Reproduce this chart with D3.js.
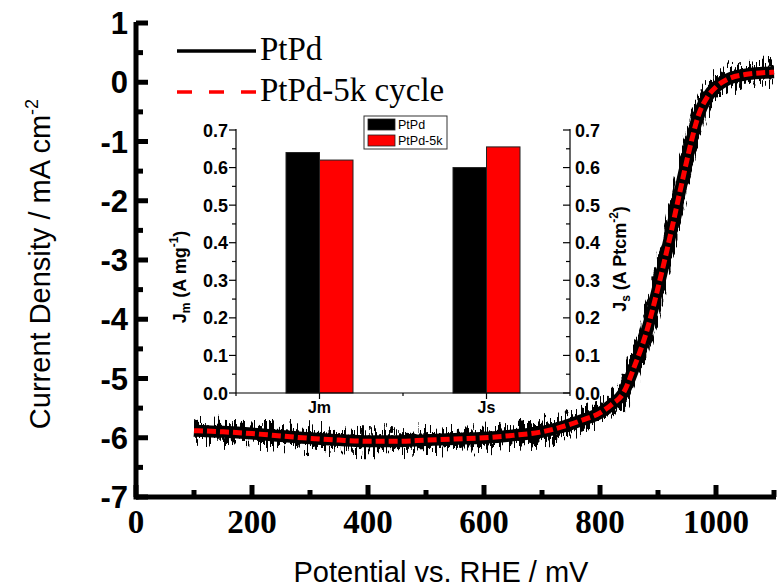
<!DOCTYPE html>
<html><head><meta charset="utf-8">
<script src="https://cdn.jsdelivr.net/npm/d3@7"></script>
<style>body{margin:0;background:#fff}svg{display:block}</style>
</head><body>
<svg id="c" width="781" height="588"></svg>
<script>
// ---- main curve data (potential mV, current density mA cm^-2)
const potential = [100,150,200,250,300,350,400,450,500,550,600,650,700,740,770,800,820,840,860,880,900,920,940,955,970,985,1000,1020,1050,1080,1100];
const currentPtPd = [-5.88,-5.90,-5.93,-5.97,-6.01,-6.04,-6.06,-6.06,-6.04,-6.02,-6.00,-5.96,-5.90,-5.80,-5.70,-5.58,-5.44,-5.25,-4.78,-4.22,-3.47,-2.64,-1.75,-1.10,-0.55,-0.25,-0.08,0.05,0.13,0.16,0.17];
const currentPtPd5k = [-5.88,-5.90,-5.93,-5.97,-6.01,-6.04,-6.06,-6.06,-6.04,-6.02,-6.00,-5.96,-5.90,-5.80,-5.70,-5.58,-5.44,-5.25,-4.78,-4.22,-3.47,-2.64,-1.75,-1.10,-0.55,-0.25,-0.08,0.05,0.13,0.16,0.17];
const xTicks = [0,200,400,600,800,1000];
const yTicks = [1,0,-1,-2,-3,-4,-5,-6,-7];
const seriesNames = ["PtPd","PtPd-5k cycle"];
// ---- inset bar data
const barCategories = ["Jm","Js"];
const barSeries = ["PtPd","PtPd-5k"];
const barPtPd = [0.64,0.60];
const barPtPd5k = [0.62,0.655];
const insetTicks = [0,0.1,0.2,0.3,0.4,0.5,0.6,0.7];

const svg = d3.select("#c");
const x = d3.scaleLinear().domain([0,1100]).range([136,774]);
const y = d3.scaleLinear().domain([-7,1]).range([497,23]);

const defs = svg.append("defs");
const f = defs.append("filter").attr("id","noise").attr("filterUnits","userSpaceOnUse").attr("x",150).attr("y",20).attr("width",640).attr("height",460);
f.append("feTurbulence").attr("type","fractalNoise").attr("baseFrequency","0.45 0.06").attr("numOctaves",2).attr("seed",7).attr("result","t");
f.append("feColorMatrix").attr("in","t").attr("type","matrix")
  .attr("values","0 0 0 0 0.5  0 2.2 0 0 -0.6  0 0 0 0 0  0 0 0 0 1").attr("result","m");
f.append("feDisplacementMap").attr("in","SourceGraphic").attr("in2","m").attr("scale",22).attr("xChannelSelector","R").attr("yChannelSelector","G");

// axes main
const ax = svg.append("g");
ax.append("line").attr("x1",x(0)).attr("x2",x(1100)+2).attr("y1",y(-7)).attr("y2",y(-7)).attr("stroke","#000").attr("stroke-width",5);
ax.append("line").attr("x1",x(0)).attr("x2",x(0)).attr("y1",y(-7)+2.5).attr("y2",y(1)-1).attr("stroke","#000").attr("stroke-width",5);
d3.range(0,1101,100).forEach(v=>{
  const major = v%200===0;
  ax.append("line").attr("x1",x(v)).attr("x2",x(v)).attr("y1",y(-7)).attr("y2",y(-7)-(major?12:7)).attr("stroke","#000").attr("stroke-width",5);
});
d3.range(-7,1.01,0.5).forEach(v=>{
  const major = Math.abs(v%1)<1e-9;
  ax.append("line").attr("x1",x(0)).attr("x2",x(0)+(major?12:7)).attr("y1",y(v)).attr("y2",y(v)).attr("stroke","#000").attr("stroke-width",5);
});
ax.selectAll("text.xt").data(xTicks).join("text").attr("x",d=>x(d)).attr("y",533)
  .attr("text-anchor","middle").attr("font-family","Liberation Serif, Times New Roman, serif").attr("font-weight","bold").attr("font-size",33).text(d=>d);
ax.selectAll("text.yt").data(yTicks).join("text").attr("x",128).attr("y",d=>y(d)+11)
  .attr("text-anchor","end").attr("font-family","Liberation Sans, Arial, sans-serif").attr("font-weight","bold").attr("font-size",31).text(d=>d);
svg.append("text").attr("x",441).attr("y",582).attr("text-anchor","middle").attr("font-family","Liberation Sans, Arial, sans-serif").attr("font-size",29).text("Potential vs. RHE / mV");
const yt = svg.append("text").attr("transform","translate(50,264) rotate(-90)").attr("text-anchor","middle").attr("font-family","Liberation Sans, Arial, sans-serif").attr("font-size",29);
yt.append("tspan").text("Current Density / mA cm");
yt.append("tspan").attr("font-size",18).attr("dy",-12).text("-2");

// curves
const line = d3.line().x((d,i)=>x(potential[i])).y(d=>y(d)).curve(d3.curveMonotoneX);
svg.append("path").attr("d",line(currentPtPd)).attr("fill","none").attr("stroke","#000").attr("stroke-width",14).attr("filter","url(#noise)");
svg.append("path").attr("d",line(currentPtPd)).attr("fill","none").attr("stroke","#000").attr("stroke-width",12);
svg.append("path").attr("d",line(currentPtPd5k)).attr("fill","none").attr("stroke","#ff0000").attr("stroke-width",5).attr("stroke-dasharray","9,4");

// legend main
svg.append("line").attr("x1",177).attr("x2",256).attr("y1",51).attr("y2",51).attr("stroke","#000").attr("stroke-width",3.5);
svg.append("line").attr("x1",177).attr("x2",256).attr("y1",92).attr("y2",92).attr("stroke","#ff0000").attr("stroke-width",3.5).attr("stroke-dasharray","15,17");
svg.selectAll("text.lg").data(seriesNames).join("text").attr("x",260).attr("y",(d,i)=>60+i*41)
  .attr("font-family","Liberation Serif, Times New Roman, serif").attr("font-size",33).text(d=>d);

// inset
const ix0=236, ix1=570, iy0=393;
const ixs = d3.scalePoint().domain(barCategories).range([ix0,ix1]).padding(0.5);
const iy = d3.scaleLinear().domain([0,0.7]).range([iy0,130]);
const bw = 33.5;
const ins = svg.append("g");
const barData = [barPtPd, barPtPd5k];
const barColors = ["#000000","#ff0000"];
barData.forEach((vals,s)=>{
  ins.selectAll(null).data(vals).join("rect")
    .attr("x",(d,i)=>ixs(barCategories[i]) + (s===0?-bw:0)).attr("width",bw)
    .attr("y",d=>iy(d)).attr("height",d=>iy0-iy(d))
    .attr("fill",barColors[s]).attr("stroke","#222").attr("stroke-width",1);
});
ins.append("line").attr("x1",ix0).attr("x2",ix1).attr("y1",iy0).attr("y2",iy0).attr("stroke","#000").attr("stroke-width",1.2);
ins.append("line").attr("x1",ix0).attr("x2",ix0).attr("y1",iy0).attr("y2",iy(0.7)-1).attr("stroke","#000").attr("stroke-width",1.2);
ins.append("line").attr("x1",ix1).attr("x2",ix1).attr("y1",iy0).attr("y2",iy(0.7)-1).attr("stroke","#000").attr("stroke-width",1.2);
d3.range(0,0.701,0.05).forEach((v,k)=>{
  const L = k%2===0?7:4;
  ins.append("line").attr("x1",ix0).attr("x2",ix0-L).attr("y1",iy(v)).attr("y2",iy(v)).attr("stroke","#000").attr("stroke-width",1.2);
  ins.append("line").attr("x1",ix1).attr("x2",ix1-L).attr("y1",iy(v)).attr("y2",iy(v)).attr("stroke","#000").attr("stroke-width",1.2);
});
[ix0,(ix0+ix1)/2,ix1].forEach(v=>ins.append("line").attr("x1",v).attr("x2",v).attr("y1",iy0).attr("y2",iy0+3).attr("stroke","#000").attr("stroke-width",1.2));
barCategories.forEach(c=>ins.append("line").attr("x1",ixs(c)).attr("x2",ixs(c)).attr("y1",iy0).attr("y2",iy0+6).attr("stroke","#000").attr("stroke-width",1.2));
ins.selectAll("text.il").data(insetTicks).join("text").attr("x",228).attr("y",d=>iy(d)+6.5).attr("text-anchor","end")
  .attr("font-family","Liberation Sans, Arial, sans-serif").attr("font-weight","bold").attr("font-size",18).text(d=>d.toFixed(1));
ins.selectAll("text.ir").data(insetTicks).join("text").attr("x",575).attr("y",d=>iy(d)+6.5).attr("text-anchor","start")
  .attr("font-family","Liberation Sans, Arial, sans-serif").attr("font-weight","bold").attr("font-size",18).text(d=>d.toFixed(1));
ins.selectAll("text.ic").data(barCategories).join("text").attr("x",d=>ixs(d)).attr("y",413).attr("text-anchor","middle")
  .attr("font-family","Liberation Sans, Arial, sans-serif").attr("font-weight","bold").attr("font-size",16).text(d=>d);
function ylab(tx,ty,main,sub,mid,sup){
  const t = ins.append("text").attr("transform",`translate(${tx},${ty}) rotate(-90)`).attr("text-anchor","middle")
    .attr("font-family","Liberation Sans, Arial, sans-serif").attr("font-weight","bold").attr("font-size",18);
  t.append("tspan").text(main);
  t.append("tspan").attr("font-size",12).attr("dy",4).text(sub);
  t.append("tspan").attr("dy",-4).text(" "+mid);
  t.append("tspan").attr("font-size",12).attr("dy",-8).text(sup);
  t.append("tspan").attr("dy",8).text(")");
}
ylab(186,277,"J","m","(A mg","-1");
ylab(626,259,"J","s","(A Ptcm","-2");
// inset legend
ins.append("rect").attr("x",364).attr("y",116).attr("width",83).attr("height",33).attr("fill","#fff").attr("stroke","#333").attr("stroke-width",1);
barSeries.forEach((s,i)=>{
  ins.append("rect").attr("x",368).attr("y",119+i*16).attr("width",27).attr("height",11).attr("fill",barColors[i]).attr("stroke","#222").attr("stroke-width",0.8);
  ins.append("text").attr("x",398).attr("y",129+i*15.5).attr("font-family","Liberation Sans, Arial, sans-serif").attr("font-size",12.5).text(s);
});
</script>
</body></html>
